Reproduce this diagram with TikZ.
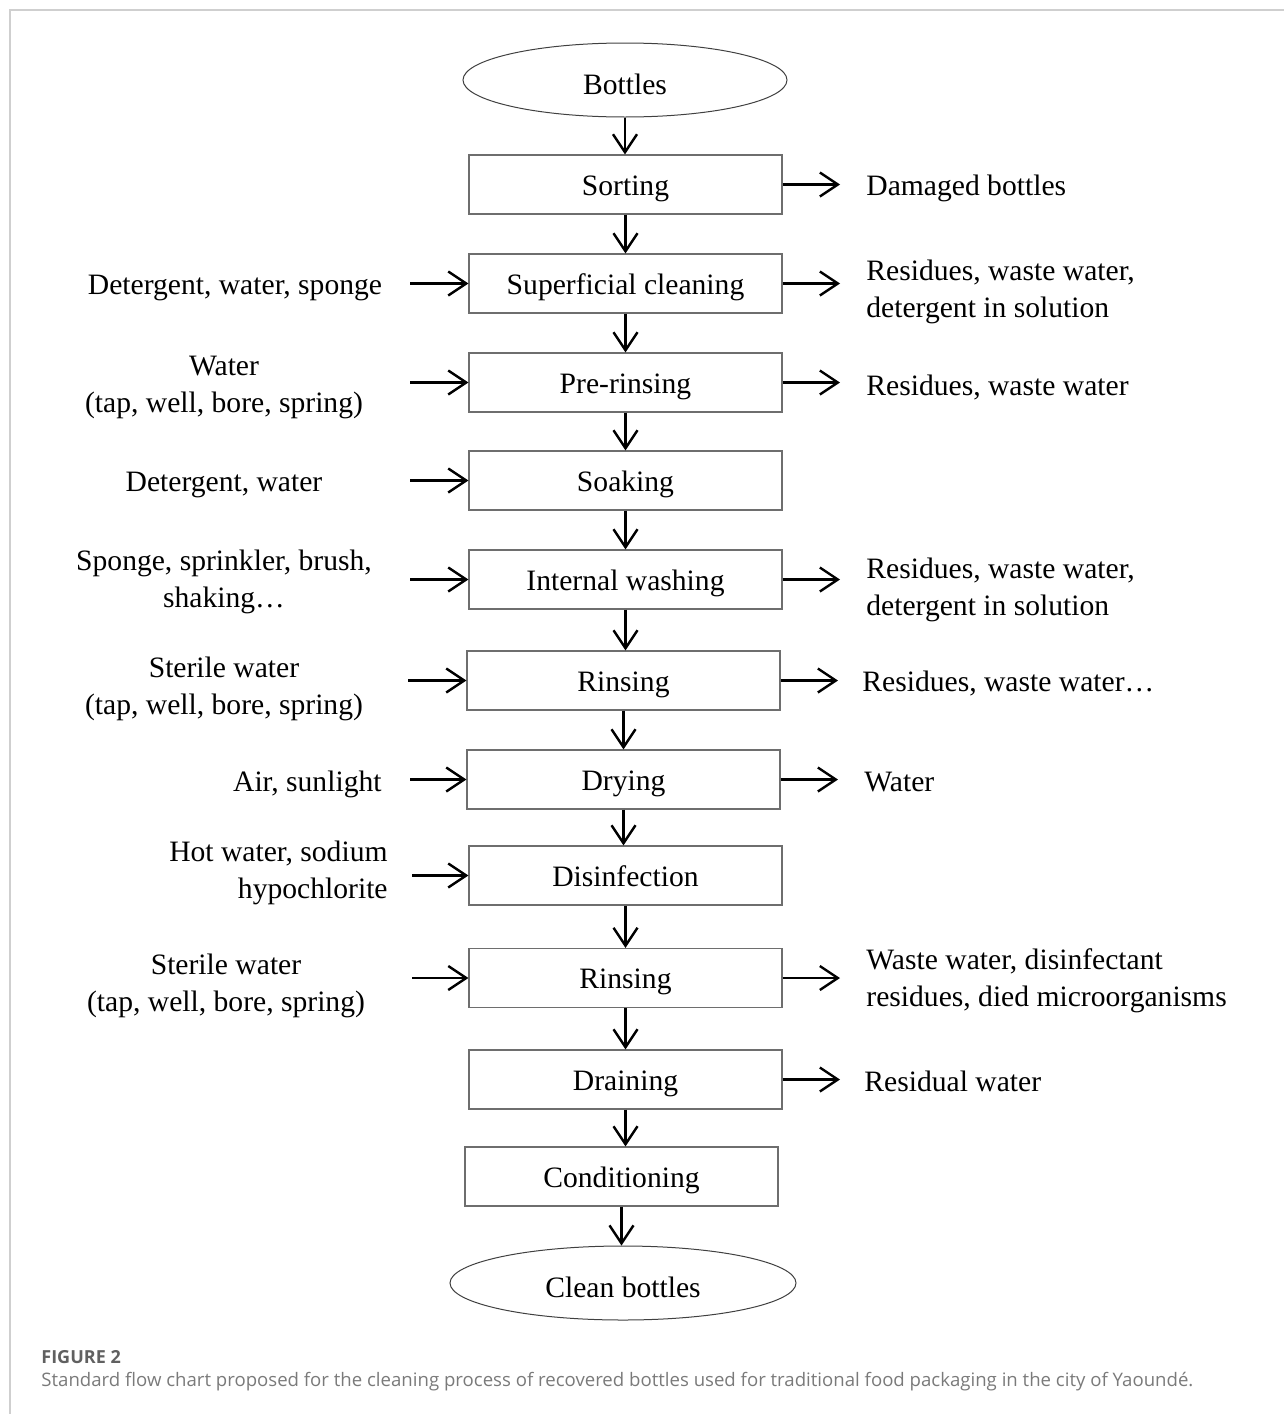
\documentclass[tikz,border=0pt]{standalone}
\usepackage{fontspec}
\setmainfont{Liberation Serif}
\newfontfamily\capfont{Open Sans}
\usetikzlibrary{arrows.meta,shapes.geometric}
\definecolor{framegray}{HTML}{CFCFCF}
\definecolor{boxgray}{HTML}{6E6E6E}
\definecolor{capgray}{HTML}{7A7A7A}
\definecolor{capdark}{HTML}{606060}
\tikzset{
  every node/.style={font=\fontsize{14.8}{18.5}\selectfont},
  stepbox/.style={draw=boxgray, line width=0.6pt, minimum width=156.5pt, minimum height=29.5pt, inner sep=0pt, text height=13.8pt, text depth=3.2pt},
  endbox/.style={draw=black!75, line width=0.5pt, ellipse, inner sep=0pt, minimum height=37pt, text height=14pt, text depth=0pt},
  arr/.style={line width=1.2pt, -{Straight Barb[length=9pt,width=12pt,line width=1.2pt]}},
  inlab/.style={align=center, inner sep=0pt, yshift=-1.75pt},
  outlab/.style={align=left, anchor=west, inner sep=0pt, yshift=-1.75pt},
}
\begin{document}
\begin{tikzpicture}[x=0.5pt,y=-0.5pt]
\useasboundingbox (0,0) rectangle (1284,1414);
\draw[framegray, line width=1pt] (10,1414) -- (10,10) -- (1284,10);

% main column
\node[endbox, minimum width=162pt] (bot) at (625,80) {Bottles};
\node[stepbox] (sort) at (625.5,184.5) {Sorting};
\node[stepbox] (sup) at (625.5,283.5) {Superficial cleaning};
\node[stepbox] (pre) at (625.5,382.5) {Pre-rinsing};
\node[stepbox] (soak) at (625.5,480.5) {Soaking};
\node[stepbox] (intw) at (625.5,579.5) {Internal washing};
\node[stepbox] (rin1) at (623.5,680.5) {Rinsing};
\node[stepbox] (dry) at (623.5,779.5) {Drying};
\node[stepbox] (dis) at (625.5,875.5) {Disinfection};
\node[stepbox] (rin2) at (625.5,978) {Rinsing};
\node[stepbox] (drain) at (625.5,1079.5) {Draining};
\node[stepbox] (cond) at (621.5,1176.5) {Conditioning};
\node[endbox, minimum width=173pt] (clean) at (623,1283) {Clean bottles};

\draw[arr] (bot.south) -- (bot.south |- sort.north);
\draw[arr] (sort.south) -- (sort.south |- sup.north);
\draw[arr] (sup.south) -- (sup.south |- pre.north);
\draw[arr] (pre.south) -- (pre.south |- soak.north);
\draw[arr] (soak.south) -- (soak.south |- intw.north);
\draw[arr] (intw.south) -- (intw.south |- rin1.north);
\draw[arr] (rin1.south) -- (rin1.south |- dry.north);
\draw[arr] (dry.south) -- (dry.south |- dis.north);
\draw[arr] (dis.south) -- (dis.south |- rin2.north);
\draw[arr] (rin2.south) -- (rin2.south |- drain.north);
\draw[arr] (drain.south) -- (drain.south |- cond.north);
\draw[arr] (cond.south) -- (cond.south |- clean.north);

% inputs (left)
\node[inlab] (i2) at (235,284) {Detergent, water, sponge};
\node[inlab] (i3) at (224,383.5) {Water\\(tap, well, bore, spring)};
\node[inlab] (i4) at (224,481) {Detergent, water};
\node[inlab] (i5) at (224,578.5) {Sponge, sprinkler, brush,\\shaking\ldots};
\node[inlab] (i6) at (224,685) {Sterile water\\(tap, well, bore, spring)};
\node[inlab, anchor=east] (i7) at (382,781) {Air, sunlight};
\node[inlab, align=right, anchor=east] (i8) at (388,869.5) {Hot water, sodium\\hypochlorite};
\node[inlab] (i9) at (226,982.5) {Sterile water\\(tap, well, bore, spring)};

\coordinate (a2) at (410,283.5);
\coordinate (a3) at (410,382.5);
\coordinate (a4) at (410,480.5);
\coordinate (a5) at (410,579.5);
\coordinate (a6) at (408,680.5);
\coordinate (a7) at (410,779.5);
\coordinate (a8) at (412,875.5);
\coordinate (a9) at (412,978);
\draw[arr] (a2) -- (sup.west);
\draw[arr] (a3) -- (pre.west);
\draw[arr] (a4) -- (soak.west);
\draw[arr] (a5) -- (intw.west);
\draw[arr] (a6) -- (rin1.west);
\draw[arr] (a7) -- (dry.west);
\draw[arr] (a8) -- (dis.west);
\draw[arr] (a9) -- (rin2.west);

% outputs (right)
\coordinate (b1) at (840,184.5);
\coordinate (b2) at (840,283.5);
\coordinate (b3) at (840,382.5);
\coordinate (b5) at (840,579.5);
\coordinate (b6) at (838,680.5);
\coordinate (b7) at (838,779.5);
\coordinate (b9) at (840,978);
\coordinate (b10) at (840,1079.5);
\draw[arr] (sort.east) -- (b1);
\draw[arr] (sup.east) -- (b2);
\draw[arr] (pre.east) -- (b3);
\draw[arr] (intw.east) -- (b5);
\draw[arr] (rin1.east) -- (b6);
\draw[arr] (dry.east) -- (b7);
\draw[arr] (rin2.east) -- (b9);
\draw[arr] (drain.east) -- (b10);

\node[outlab] (o1) at (866,185) {Damaged bottles};
\node[outlab] (o2) at (866,288) {Residues, waste water,\\detergent in solution};
\node[outlab] (o3) at (866,384) {Residues, waste water};
\node[outlab] (o5) at (866,586) {Residues, waste water,\\detergent in solution};
\node[outlab] (o6) at (862,680) {Residues, waste water\ldots};
\node[outlab] (o7) at (864,779) {Water};
\node[outlab] (o9) at (866,977) {Waste water, disinfectant\\residues, died microorganisms};
\node[outlab] (o10) at (864,1078) {Residual water};

% caption
\node[anchor=west, inner sep=0pt, text=capdark, font=\capfont\fontsize{9}{11}\selectfont\bfseries] (fig) at (41,1357) {FIGURE 2};
\node[anchor=west, inner sep=0pt, text=capgray, font=\capfont\fontsize{9.3}{11}\selectfont] (cap) at (41,1382) {Standard flow chart proposed for the cleaning process of recovered bottles used for traditional food packaging in the city of Yaoundé.};
\end{tikzpicture}
\end{document}
